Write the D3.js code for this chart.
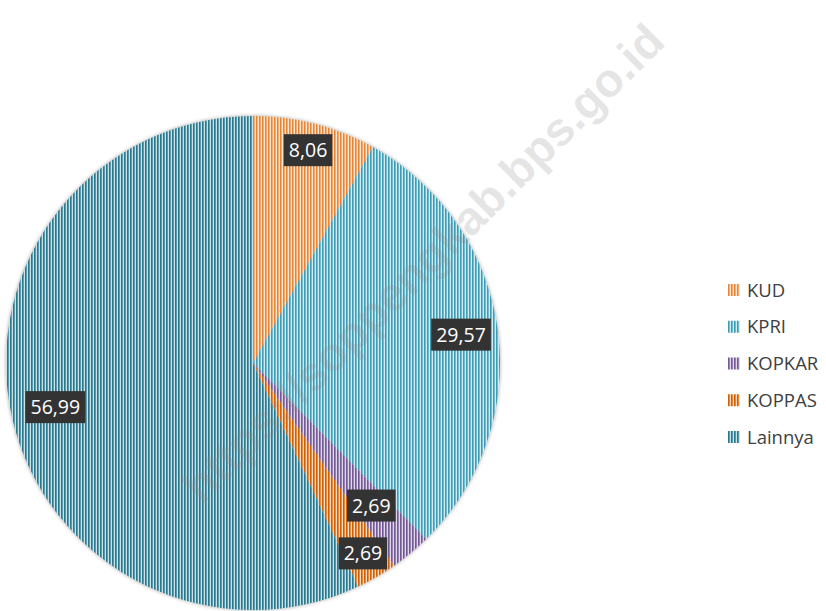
<!DOCTYPE html>
<html>
<head>
<meta charset="utf-8">
<script src="https://cdn.jsdelivr.net/npm/d3@7"></script>
<style>
  body { margin: 0; background: #fff; }
  svg { display: block; }
</style>
</head>
<body>
<svg id="chart" width="826" height="611"></svg>
<script>
// share of cooperatives by type (%)
const categories = ["KUD", "KPRI", "KOPKAR", "KOPPAS", "Lainnya"];
const values = [8.06, 29.57, 2.69, 2.69, 56.99];
const watermark = "https://soppengkab.bps.go.id";

// palette + where the data labels sit (fraction of the radius)
const colors = ["#f79646", "#4bacc6", "#8064a2", "#e46c0a", "#31859c"];
const labelRadius = { KUD: 0.89, KPRI: 0.85, KOPKAR: 0.75, KOPPAS: 0.89, Lainnya: 0.82 };

const svg = d3.select("#chart");
const cx = 253, cy = 363, R = 247;

const idLocale = d3.formatLocale({ decimal: ",", thousands: ".", grouping: [3], currency: ["Rp", ""] });
const fmt = idLocale.format(".2f");

const color = d3.scaleOrdinal().domain(categories).range(colors);

// striped fills, one per category
const defs = svg.append("defs");
categories.forEach((c, i) => {
  const base = d3.color(color(c));
  const p = defs.append("pattern")
    .attr("id", "stripe-" + i)
    .attr("patternUnits", "userSpaceOnUse")
    .attr("width", 3).attr("height", 10);
  p.append("rect").attr("width", 3).attr("height", 10)
    .attr("fill", d3.interpolateRgb(base, "#ffffff")(0.2));
  p.append("rect").attr("x", 0).attr("width", 1).attr("height", 10)
    .attr("fill", base.darker(0.3).formatHex());
  p.append("rect").attr("x", 2).attr("width", 1).attr("height", 10)
    .attr("fill", d3.interpolateRgb(base, "#ffffff")(0.75));
});

// soft edge around the pie
const blur = defs.append("filter").attr("id", "soft")
  .attr("x", "-10%").attr("y", "-10%").attr("width", "120%").attr("height", "120%");
blur.append("feGaussianBlur").attr("stdDeviation", 1.6);

const g = svg.append("g").attr("transform", `translate(${cx},${cy})`);

g.append("circle")
  .attr("r", R + 1)
  .attr("fill", "#c8c8c8")
  .attr("filter", "url(#soft)");

const pie = d3.pie().sort(null).value(d => d.value);
const arcs = pie(categories.map((c, i) => ({ name: c, value: values[i], idx: i })));
const arc = d3.arc().innerRadius(0).outerRadius(R);

g.selectAll("path.slice")
  .data(arcs)
  .enter().append("path")
  .attr("class", "slice")
  .attr("d", arc)
  .attr("fill", d => `url(#stripe-${d.data.idx})`);

// data labels
const label = g.selectAll("g.lbl")
  .data(arcs)
  .enter().append("g")
  .attr("class", "lbl")
  .attr("transform", d => {
    const r = R * labelRadius[d.data.name];
    const a = d3.arc().innerRadius(r).outerRadius(r);
    const [x, y] = a.centroid(d);
    return `translate(${x},${y})`;
  });

label.append("rect").attr("fill", "#333333");
label.append("text")
  .attr("text-anchor", "middle")
  .attr("dy", "0.36em")
  .attr("fill", "#ffffff")
  .attr("font-family", "'Open Sans', sans-serif")
  .attr("font-size", 19.5)
  .text(d => fmt(d.data.value));
label.each(function () {
  const t = d3.select(this).select("text").node();
  const w = t.getComputedTextLength() + 10;
  const h = 32;
  d3.select(this).select("rect")
    .attr("x", -w / 2).attr("y", -h / 2)
    .attr("width", w).attr("height", h);
});

// legend
const legendY = d3.scalePoint().domain(categories).range([290, 437]);
const legend = svg.append("g").selectAll("g")
  .data(categories)
  .enter().append("g")
  .attr("transform", d => `translate(728,${legendY(d)})`);
legend.append("rect")
  .attr("x", 0).attr("y", -6)
  .attr("width", 12).attr("height", 12)
  .attr("fill", (d, i) => `url(#stripe-${i})`);
legend.append("text")
  .attr("x", 19)
  .attr("dy", "0.36em")
  .attr("fill", "#404040")
  .attr("font-family", "'Open Sans', sans-serif")
  .attr("font-size", 18.5)
  .text(d => d);

// watermark
svg.append("text")
  .attr("transform", "translate(423,263) rotate(-44.8)")
  .attr("text-anchor", "middle")
  .attr("dy", "0.35em")
  .attr("font-family", "'Liberation Sans', Arial, sans-serif")
  .attr("font-weight", "bold")
  .attr("font-size", 47)
  .attr("fill", "#8a8a8a")
  .attr("fill-opacity", 0.22)
  .text(watermark);
</script>
</body>
</html>
